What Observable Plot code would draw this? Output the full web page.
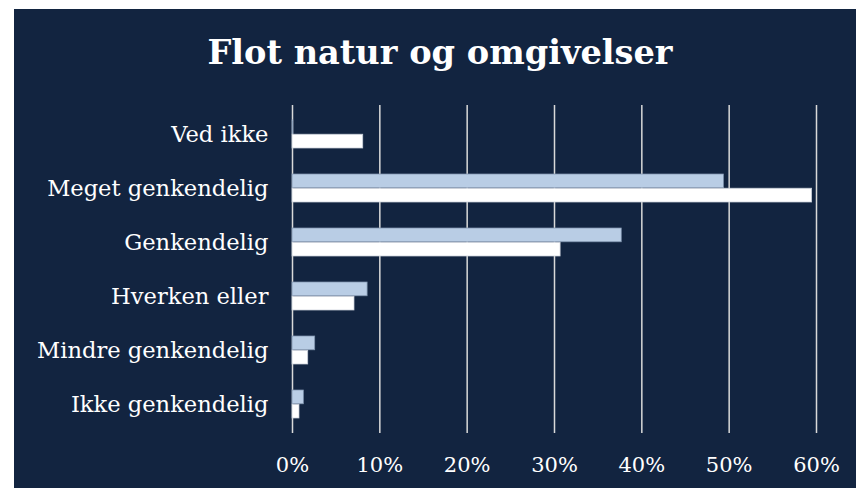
<!DOCTYPE html>
<html>
<head>
<meta charset="utf-8">
<script src="https://cdn.jsdelivr.net/npm/d3@7"></script>
<script src="https://cdn.jsdelivr.net/npm/@observablehq/plot@0.6"></script>
<style>
  html, body { margin: 0; padding: 0; background: #ffffff; }
  #card { position: absolute; left: 14px; top: 9px; width: 842px; height: 479px; background: #122440; overflow: hidden; }
  #title { position: absolute; left: 0; top: 27px; width: 852px; text-align: center; font-family: "DejaVu Serif", serif; font-weight: bold; font-size: 33.6px; line-height: 1; color: #ffffff; }
  #chart { position: absolute; left: 0; top: 0; }
</style>
</head>
<body>
<div id="card">
  <div id="chart"></div>
  <div id="title">Flot natur og omgivelser</div>
</div>
<script>
const categories = ["Ved ikke", "Meget genkendelig", "Genkendelig", "Hverken eller", "Mindre genkendelig", "Ikke genkendelig"];
const seriesBlue = [0.1, 49.4, 37.7, 8.6, 2.6, 1.3];
const seriesWhite = [8.1, 59.5, 30.7, 7.1, 1.8, 0.8];
const xTicks = [0, 10, 20, 30, 40, 50, 60];

const W = 842, H = 479, mt = 96, mb = 55, ml = 278, mr = 40;
const padInner = 0.48;
const step = (H - mt - mb) / categories.length;
const half = step * (1 - padInner) / 2;

const blueData = categories.map((c, i) => ({category: c, value: seriesBlue[i]}));
const whiteData = categories.map((c, i) => ({category: c, value: seriesWhite[i]}));

const chart = Plot.plot({
  width: W,
  height: H,
  marginTop: mt,
  marginBottom: mb,
  marginLeft: ml,
  marginRight: mr,
  style: { background: "transparent", color: "#ffffff", fontFamily: "DejaVu Serif, serif", fontSize: "21px" },
  x: { domain: [0, 60], label: null },
  y: { domain: categories, paddingInner: padInner, paddingOuter: padInner / 2, label: null },
  marks: [
    Plot.ruleX(xTicks, { stroke: "#d9d9d9", strokeWidth: 1.5 }),
    Plot.barX(blueData, { y: "category", x: "value", fill: "#b9cde5", stroke: "#7f93ad", strokeWidth: 0.75, insetBottom: half, insetTop: 0 }),
    Plot.barX(whiteData, { y: "category", x: "value", fill: "#ffffff", stroke: "#c8ced8", strokeWidth: 0.75, insetTop: half, insetBottom: 0 }),
    Plot.axisX({ ticks: xTicks, tickFormat: d => d + "%", tickSize: 0, tickPadding: 24, fontSize: 21, label: null }),
    Plot.axisY({ tickSize: 0, tickPadding: 24, fontSize: 22.6, label: null })
  ]
});
document.getElementById("chart").appendChild(chart);
</script>
</body>
</html>
